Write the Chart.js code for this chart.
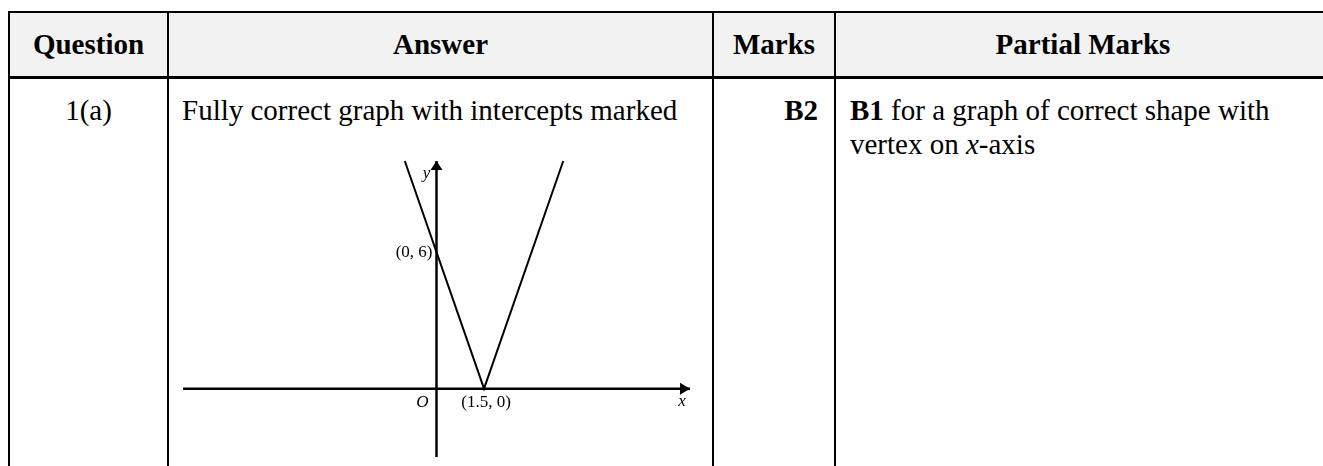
<!DOCTYPE html>
<html>
<head>
<meta charset="utf-8">
<script src="https://cdn.jsdelivr.net/npm/chart.js@4"></script>
<style>
  html, body { margin: 0; padding: 0; background: #fff; overflow: hidden; }
  body { width: 1323px; height: 466px; position: relative; font-family: "Liberation Serif", "Times New Roman", serif; color: #000; }
  .abs { position: absolute; }
  .line { position: absolute; background: #000; }
  .head { position: absolute; top: 13px; height: 63px; line-height: 63px; font-weight: bold; font-size: 29px; text-align: center; }
  .cell { position: absolute; top: 93px; font-size: 29px; line-height: 34px; }
  #graph { position: absolute; left: 173px; top: 151px; }
</style>
</head>
<body>
<div class="abs" style="left:9px;top:12px;width:1320px;height:65px;background:#f2f2f2"></div>
<div class="line" style="left:8px;top:11px;width:1320px;height:2px"></div>
<div class="line" style="left:8px;top:76px;width:1320px;height:3px"></div>
<div class="line" style="left:8px;top:11px;width:2px;height:460px"></div>
<div class="line" style="left:167px;top:11px;width:2px;height:460px"></div>
<div class="line" style="left:712px;top:11px;width:2px;height:460px"></div>
<div class="line" style="left:834px;top:11px;width:2px;height:460px"></div>

<div class="head" style="left:10px;width:157px">Question</div>
<div class="head" style="left:169px;width:543px">Answer</div>
<div class="head" style="left:714px;width:120px">Marks</div>
<div class="head" style="left:836px;width:494px">Partial Marks</div>

<div class="cell" style="left:10px;width:157px;text-align:center">1(a)</div>
<div class="cell" style="left:182px;width:528px">Fully correct graph with intercepts marked</div>
<div class="cell" style="left:714px;width:104px;text-align:right;font-weight:bold">B2</div>
<div class="cell" style="left:850px;width:470px"><b>B1</b> for a graph of correct shape with vertex on <i>x</i>-axis</div>

<canvas id="graph" width="527" height="316"></canvas>

<script>
// y = |4x - 6|
const curveX = [-1, 1.5, 4];
const curveY = [10, 0, 10];
const xRange = [-8, 8];
const yRange = [-3, 10];
const pointLabels = ['(0, 6)', '(1.5, 0)'];
const pointLabelX = [0, 1.5];
const pointLabelY = [6, 0];

const black = '#000';

// arrows and labels on the axes
const axisDecor = {
  id: 'axisDecor',
  afterDatasetsDraw(chart) {
    const ctx = chart.ctx;
    const xs = chart.scales.x, ys = chart.scales.y;
    const ox = xs.getPixelForValue(0), oy = ys.getPixelForValue(0);
    const xe = xs.getPixelForValue(xRange[1]);
    const ye = ys.getPixelForValue(yRange[1]);
    ctx.save();
    ctx.fillStyle = black;
    ctx.beginPath();
    ctx.moveTo(xe, oy);
    ctx.lineTo(xe - 10, oy - 6);
    ctx.lineTo(xe - 10, oy + 6);
    ctx.closePath();
    ctx.fill();
    ctx.beginPath();
    ctx.moveTo(ox, ye);
    ctx.lineTo(ox - 6, ye + 9);
    ctx.lineTo(ox + 6, ye + 9);
    ctx.closePath();
    ctx.fill();

    ctx.textBaseline = 'middle';
    ctx.font = 'italic 17px "Liberation Serif", serif';
    ctx.textAlign = 'center';
    ctx.fillText('y', ox - 10, ye + 13);
    ctx.fillText('x', xe - 8, oy + 13);
    ctx.fillText('O', ox - 14, oy + 14);

    ctx.font = '17px "Liberation Serif", serif';
    pointLabels.forEach((t, i) => {
      const px = xs.getPixelForValue(pointLabelX[i]);
      const py = ys.getPixelForValue(pointLabelY[i]);
      if (pointLabelX[i] === 0) {
        ctx.textAlign = 'right';
        ctx.fillText(t, px - 4, py);
      } else {
        ctx.textAlign = 'center';
        ctx.fillText(t, px + 2, py + 14);
      }
    });
    ctx.restore();
  }
};

const curve = curveX.map((x, i) => ({ x: x, y: curveY[i] }));

new Chart(document.getElementById('graph'), {
  type: 'scatter',
  data: {
    datasets: [
      { data: [{ x: xRange[0], y: 0 }, { x: xRange[1], y: 0 }], showLine: true, borderColor: black, borderWidth: 2.5, pointRadius: 0, clip: false },
      { data: [{ x: 0, y: yRange[0] }, { x: 0, y: yRange[1] }], showLine: true, borderColor: black, borderWidth: 2.5, pointRadius: 0, clip: false },
      { data: curve, showLine: true, borderColor: black, borderWidth: 2, pointRadius: 0, tension: 0, clip: false }
    ]
  },
  options: {
    responsive: false,
    animation: false,
    devicePixelRatio: 1,
    layout: { padding: 10 },
    plugins: { legend: { display: false }, tooltip: { enabled: false } },
    scales: {
      x: { type: 'linear', min: xRange[0], max: xRange[1], display: false },
      y: { type: 'linear', min: yRange[0], max: yRange[1], display: false }
    }
  },
  plugins: [axisDecor]
});
</script>
</body>
</html>
